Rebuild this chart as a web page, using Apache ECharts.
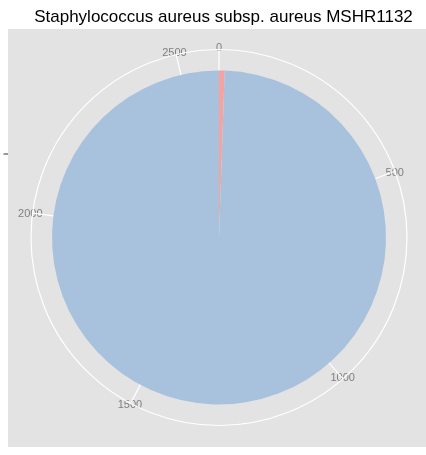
<!DOCTYPE html>
<html>
<head>
<meta charset="utf-8">
<script src="https://cdn.jsdelivr.net/npm/echarts@6/dist/echarts.min.js"></script>
<style>
  html, body { margin: 0; padding: 0; background: #fff; }
  #main { width: 426px; height: 455px; }
</style>
</head>
<body>
<div id="main"></div>
<script>
// data
var sliceNames = ['group A', 'group B'];
var sliceValues = [14, 2581];
var sliceColors = ['#f4a3a0', '#a8c2de'];
var angleTicks = [0, 500, 1000, 1500, 2000, 2500];

var total = sliceValues.reduce(function (a, b) { return a + b; }, 0);

// panel geometry (ggplot-like polar panel)
var cx = 219, cy = 237.5;
var outerR = 188, pieR = 167;

// small nudges so each tick label sits centred on the outer circle
var labelPad = {
    0: [0, 0, 6, 0],
    500: [0, 0, -4, 0],
    1000: [1, 0, 0, -6],
    1500: [5, -7, 0, 0],
    2000: [0, 0, 0, 0],
    2500: [0, 8, 6, 0]
};
var richStyles = {};
angleTicks.forEach(function (t) {
    richStyles['t' + t] = {
        color: '#7f7f7f',
        fontFamily: 'Liberation Sans, Arial, sans-serif',
        fontSize: 11,
        padding: labelPad[t]
    };
});

var myChart = echarts.init(document.getElementById('main'));

var option = {
    animation: false,
    backgroundColor: '#ffffff',
    title: {
        text: 'Staphylococcus aureus subsp. aureus MSHR1132',
        left: 218.5,
        top: 4,
        textAlign: 'center',
        textStyle: {
            color: '#000',
            fontFamily: 'Liberation Sans, Arial, sans-serif',
            fontWeight: 'normal',
            fontSize: 17
        }
    },
    graphic: {
        elements: [
            {
                type: 'rect',
                z: -10,
                silent: true,
                shape: { x: 8, y: 29, width: 418, height: 418 },
                style: { fill: '#e3e3e3' }
            },
            {
                type: 'line',
                z: -10,
                silent: true,
                shape: { x1: 3.5, y1: cy - pieR / 2, x2: 8, y2: cy - pieR / 2 },
                style: { stroke: '#333', lineWidth: 1 }
            }
        ]
    },
    polar: {
        center: [cx, cy],
        radius: outerR
    },
    angleAxis: {
        type: 'value',
        min: 0,
        max: total,
        interval: 500,
        startAngle: 90,
        clockwise: true,
        axisLine: { lineStyle: { color: '#ffffff', width: 1.2 } },
        axisTick: { show: false },
        splitLine: { lineStyle: { color: '#ffffff', width: 1.2 } },
        axisLabel: {
            margin: -10,
            color: '#7f7f7f',
            fontFamily: 'Liberation Sans, Arial, sans-serif',
            fontSize: 11,
            formatter: function (v) {
                if (angleTicks.indexOf(v) < 0) return '';
                return '{t' + v + '|' + v + '}';
            },
            rich: richStyles
        }
    },
    radiusAxis: {
        type: 'value',
        min: 0,
        max: 1,
        show: false
    },
    series: [{
        name: 'slices',
        type: 'pie',
        center: [cx, cy],
        radius: [0, pieR],
        startAngle: 90,
        clockwise: true,
        silent: true,
        label: { show: false },
        labelLine: { show: false },
        itemStyle: { borderWidth: 0 },
        data: sliceNames.map(function (n, i) {
            return { name: n, value: sliceValues[i], itemStyle: { color: sliceColors[i] } };
        })
    }]
};

myChart.setOption(option);
</script>
</body>
</html>
